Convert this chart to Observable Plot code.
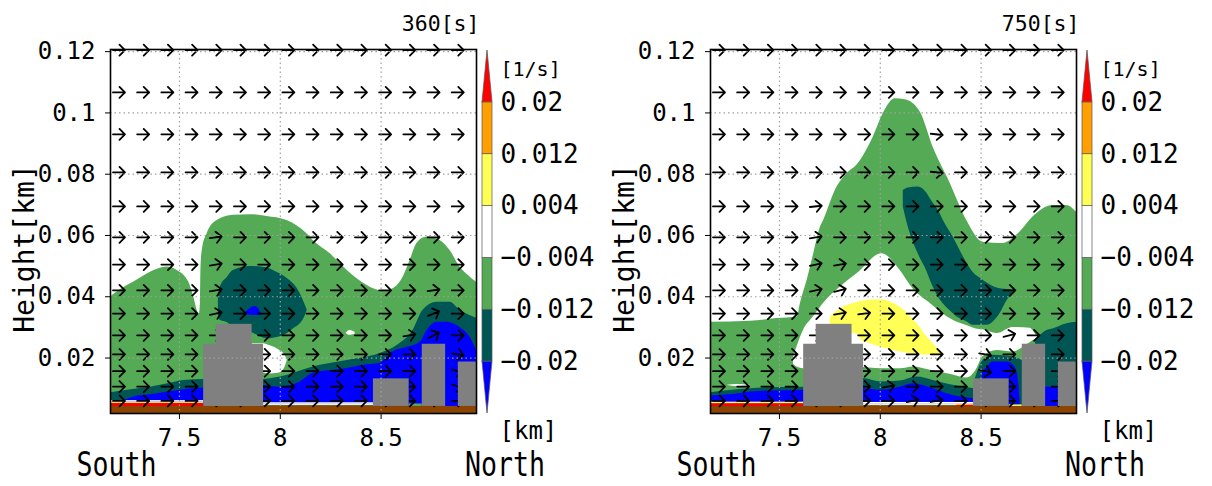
<!DOCTYPE html>
<html><head><meta charset="utf-8">
<script src="https://cdn.jsdelivr.net/npm/d3@7"></script>
<script src="https://cdn.jsdelivr.net/npm/@observablehq/plot@0.6"></script>
<style>
html,body{margin:0;padding:0;background:#fff;}
#wrap{position:relative;width:1212px;height:486px;overflow:hidden;background:#fff;}
.pane{position:absolute;top:0;}
</style></head>
<body><div id="wrap"></div>
<script>
// ---------- shared settings / legend ----------
const FONT = "'DejaVu Sans Mono', monospace";
const levelColors = ["#0000ff", "#005555", "#55aa55", "#ffffff", "#ffff55", "#ffa000", "#ff0000"];
const levelLabels = ["−0.02", "−0.012", "−0.004", "0.004", "0.012", "0.02"];
const buildingColor = "#808080";
const groundColor = "#8b4500";
const xDomain = [7.158, 8.973];
const yDomain = [0.0019, 0.1207];
const xTicks = [7.5, 8, 8.5];
const xTickLabels = ["7.5", "8", "8.5"];
const yTicks = [0.02, 0.04, 0.06, 0.08, 0.1, 0.12];
const yTickLabels = ["0.02", "0.04", "0.06", "0.08", "0.1", "0.12"];
const panelTitles = ["360[s]", "750[s]"];
const groundTop = 0.0042;

// buildings (same in both panels)
const bldX1 = [7.620, 7.682, 8.462, 8.704, 8.883];
const bldX2 = [7.917, 7.860, 8.639, 8.820, 8.990];
const bldTop = [0.0245, 0.0310, 0.0132, 0.0245, 0.0187];

// wind-vector grid
const arrowCols = [7.20, 7.32, 7.44, 7.56, 7.68, 7.80, 7.92, 8.04, 8.16, 8.28, 8.40, 8.52, 8.64, 8.76, 8.88];
const arrowRows = [0.1205, 0.1067, 0.0930, 0.0806, 0.0695, 0.0594, 0.0505, 0.0421, 0.0345, 0.0274, 0.0212, 0.0157, 0.0107, 0.0060];
// [column, row, direction in degrees clockwise from up]
const L_tilt = [[4,5,82],[4,6,80],[4,7,80],[4,8,78],[13,7,82],[13,8,68],[13,9,62],[12,9,80],[14,10,100],[14,11,105],[14,12,110]];
const R_tilt = [[4,4,84],[4,5,80],[4,6,78],[5,6,80],[4,7,78],[5,7,76],[5,8,80],[6,8,82],[9,2,96],[9,3,96],[12,9,75],[11,10,100],[11,11,102],[7,12,80],[8,13,78],[9,13,80]];

// ---------- left panel (360 s) ----------
const L_greenX = [7.158, 7.200, 7.274, 7.356, 7.439, 7.489, 7.546, 7.571, 7.591, 7.598, 7.604, 7.607, 7.614, 7.637, 7.687, 7.767, 7.851, 7.934, 8.033, 8.132, 8.163, 8.248, 8.332, 8.411, 8.460, 8.520, 8.569, 8.609, 8.644, 8.678, 8.728, 8.792, 8.842, 8.891, 8.931, 8.973];
const L_greenTop = [0.0399, 0.0420, 0.0448, 0.0480, 0.0497, 0.0486, 0.0448, 0.0399, 0.0350, 0.0343, 0.0380, 0.0500, 0.0555, 0.0606, 0.0649, 0.0666, 0.0668, 0.0662, 0.0649, 0.0606, 0.0584, 0.0540, 0.0486, 0.0445, 0.0427, 0.0418, 0.0430, 0.0464, 0.0519, 0.0574, 0.0595, 0.0584, 0.0551, 0.0497, 0.0470, 0.0447];
const L_whiteX = [7.861, 7.916, 7.950, 7.990, 8.020, 8.034];
const L_whiteLo = [0.0243, 0.0152, 0.0148, 0.0150, 0.0165, 0.0190];
const L_whiteHi = [0.0247, 0.0247, 0.0240, 0.0228, 0.0212, 0.0195];
const L_spotX = [8.327, 8.345, 8.371];
const L_spotLo = [0.0279, 0.0274, 0.0278];
const L_spotHi = [0.0281, 0.0290, 0.0284];
const L_tealBlobX = [7.693, 7.703, 7.738, 7.767, 7.851, 7.936, 7.965, 8.035, 8.064, 8.099, 8.114, 8.134];
const L_tealBlobLo = [0.0330, 0.0323, 0.0315, 0.0301, 0.0285, 0.0263, 0.0265, 0.0280, 0.0295, 0.0312, 0.0325, 0.0356];
const L_tealBlobHi = [0.0410, 0.0432, 0.0464, 0.0486, 0.0499, 0.0494, 0.0486, 0.0460, 0.0443, 0.0410, 0.0388, 0.0356];
const L_blueSpotX = [7.827, 7.851, 7.876, 7.901, 7.906];
const L_blueSpotLo = [0.0342, 0.0340, 0.0339, 0.0340, 0.0344];
const L_blueSpotHi = [0.0348, 0.0362, 0.0368, 0.0352, 0.0346];
const L_tealLowLX = [7.158, 7.243, 7.356, 7.455, 7.520, 7.630];
const L_tealLowLTop = [0.0087, 0.0095, 0.0105, 0.0118, 0.0127, 0.0130];
const L_blueLowLX = [7.230, 7.272, 7.356, 7.441, 7.569, 7.630];
const L_blueLowLTop = [0.0062, 0.0073, 0.0080, 0.0089, 0.0100, 0.0102];
const L_tealLowRX = [7.900, 8.000, 8.163, 8.332, 8.495, 8.579, 8.658, 8.708, 8.777, 8.842, 8.891, 8.973];
const L_tealLowRTop = [0.0128, 0.0138, 0.0171, 0.0192, 0.0215, 0.0241, 0.0290, 0.0356, 0.0382, 0.0382, 0.0356, 0.0330];
const L_blueLowRX = [7.900, 8.000, 8.099, 8.163, 8.262, 8.332, 8.431, 8.495, 8.545, 8.629, 8.693, 8.728, 8.777, 8.827, 8.891, 8.941, 8.973];
const L_blueLowRTop = [0.0111, 0.0105, 0.0122, 0.0150, 0.0160, 0.0166, 0.0178, 0.0183, 0.0215, 0.0235, 0.0251, 0.0290, 0.0317, 0.0317, 0.0300, 0.0268, 0.0225];
const L_stripeX1 = [7.158, 7.158, 7.158, 7.917, 7.917, 8.639];
const L_stripeX2 = [7.620, 7.620, 7.620, 8.462, 8.462, 8.704];
const L_stripeLo = [0.0042, 0.0052, 0.0056, 0.0044, 0.0049, 0.0042];
const L_stripeHi = [0.0052, 0.0056, 0.0061, 0.0049, 0.0054, 0.0050];
const L_stripeLevel = [6, 4, 3, 4, 3, 2];

// ---------- right panel (750 s) ----------
const R_greenX = [7.158, 7.356, 7.489, 7.588, 7.604, 7.637, 7.670, 7.703, 7.719, 7.777, 7.835, 7.885, 7.965, 8.015, 8.074, 8.124, 8.198, 8.262, 8.347, 8.429, 8.510, 8.609, 8.693, 8.757, 8.856, 8.924, 8.973];
const R_greenTop = [0.0317, 0.0320, 0.0329, 0.0334, 0.0378, 0.0453, 0.0540, 0.0627, 0.0649, 0.0747, 0.0802, 0.0830, 0.0921, 0.0998, 0.1046, 0.1043, 0.1003, 0.0888, 0.0770, 0.0649, 0.0578, 0.0574, 0.0611, 0.0660, 0.0698, 0.0698, 0.0676];
const R_whiteX = [7.569, 7.589, 7.619, 7.668, 7.718, 7.802, 7.886, 8.008, 8.099, 8.163, 8.248, 8.361, 8.431, 8.475, 8.510, 8.579, 8.658, 8.743, 8.777, 8.792];
const R_whiteLo = [0.0180, 0.0170, 0.0165, 0.0160, 0.0160, 0.0160, 0.0170, 0.0165, 0.0165, 0.0171, 0.0160, 0.0145, 0.0135, 0.0160, 0.0205, 0.0225, 0.0220, 0.0250, 0.0262, 0.0262];
const R_whiteHi = [0.0200, 0.0240, 0.0290, 0.0334, 0.0378, 0.0432, 0.0476, 0.0540, 0.0486, 0.0425, 0.0378, 0.0323, 0.0305, 0.0295, 0.0292, 0.0280, 0.0300, 0.0297, 0.0272, 0.0263];
const R_wispX = [7.243, 7.290, 7.356];
const R_wispLo = [0.0110, 0.0106, 0.0110];
const R_wispHi = [0.0111, 0.0114, 0.0111];
const R_yellowX = [7.752, 7.817, 7.876, 7.917, 7.934, 8.000, 8.099, 8.182, 8.231, 8.262, 8.313, 8.327];
const R_yellowLo = [0.0300, 0.0280, 0.0280, 0.0253, 0.0250, 0.0236, 0.0220, 0.0212, 0.0209, 0.0209, 0.0211, 0.0212];
const R_yellowHi = [0.0334, 0.0366, 0.0380, 0.0386, 0.0388, 0.0390, 0.0366, 0.0312, 0.0270, 0.0247, 0.0216, 0.0212];
const R_tealDiagX = [8.114, 8.139, 8.188, 8.233, 8.248, 8.297, 8.312, 8.361, 8.381, 8.431, 8.460, 8.510, 8.530, 8.594, 8.629, 8.678];
const R_tealDiagLo = [0.0693, 0.0627, 0.0540, 0.0480, 0.0454, 0.0390, 0.0377, 0.0345, 0.0334, 0.0318, 0.0307, 0.0307, 0.0307, 0.0345, 0.0388, 0.0421];
const R_tealDiagHi = [0.0747, 0.0755, 0.0758, 0.0736, 0.0720, 0.0671, 0.0650, 0.0595, 0.0570, 0.0508, 0.0480, 0.0454, 0.0445, 0.0426, 0.0424, 0.0421];
const R_tealNEX = [8.770, 8.790, 8.827, 8.856, 8.926, 8.973];
const R_tealNELo = [0.0255, 0.0100, 0.0100, 0.0100, 0.0100, 0.0100];
const R_tealNEHi = [0.0260, 0.0272, 0.0290, 0.0295, 0.0312, 0.0317];
const R_blueCDX = [8.815, 8.890];
const R_blueCDTop = [0.0105, 0.0105];
const R_tealLowLX = [7.158, 7.356, 7.630];
const R_tealLowLTop = [0.0087, 0.0100, 0.0105];
const R_blueLowLX = [7.158, 7.307, 7.356, 7.630];
const R_blueLowLTop = [0.0076, 0.0084, 0.0089, 0.0095];
const R_tealLowRX = [7.900, 7.916, 8.000, 8.099, 8.182, 8.262, 8.361, 8.470];
const R_tealLowRTop = [0.0133, 0.0133, 0.0122, 0.0125, 0.0138, 0.0127, 0.0111, 0.0100];
const R_blueLowRX = [7.900, 7.916, 8.000, 8.099, 8.163, 8.262, 8.361, 8.470];
const R_blueLowRTop = [0.0100, 0.0100, 0.0095, 0.0105, 0.0116, 0.0100, 0.0078, 0.0067];
const R_tealRingX = [8.470, 8.510, 8.559, 8.658, 8.708];
const R_tealRingTop = [0.0130, 0.0192, 0.0209, 0.0204, 0.0190];
const R_blueBlobX = [8.505, 8.530, 8.559, 8.629, 8.668, 8.685, 8.693];
const R_blueBlobTop = [0.0150, 0.0171, 0.0187, 0.0187, 0.0171, 0.0127, 0.0062];
const R_stripeX1 = [7.158, 7.158, 7.917, 7.917, 8.380, 8.639];
const R_stripeX2 = [7.620, 7.620, 8.462, 8.462, 8.462, 8.704];
const R_stripeLo = [0.0042, 0.0051, 0.0044, 0.0049, 0.0042, 0.0042];
const R_stripeHi = [0.0051, 0.0056, 0.0049, 0.0055, 0.0046, 0.0047];
const R_stripeLevel = [6, 4, 4, 3, 6, 4];

// ---------- helpers ----------
function band(xs, lo, hi) {
  return xs.map((x, i) => ({x, lo: typeof lo === "number" ? lo : lo[i], hi: hi[i]}));
}
function stripeRows(x1, x2, lo, hi, lev) {
  return x1.map((v, i) => ({x1: v, x2: x2[i], lo: lo[i], hi: hi[i], c: levelColors[lev[i]]}));
}
const buildings = bldX1.map((x1, i) => ({x1, x2: bldX2[i], lo: groundTop, hi: bldTop[i]}));
const xFmt = new Map(xTicks.map((t, i) => [t, xTickLabels[i]]));
const yFmt = new Map(yTicks.map((t, i) => [t, yTickLabels[i]]));

function makePanel(layers, stripes, tilts, title) {
  const marks = [];
  for (const [lev, data] of layers) {
    marks.push(Plot.area(data, {x1: "x", y1: "lo", y2: "hi", fill: levelColors[lev], curve: "monotone-x", clip: true}));
  }
  for (const s of stripes) {
    marks.push(Plot.rect([s], {x1: "x1", x2: "x2", y1: "lo", y2: "hi", fill: s.c, clip: true}));
  }
  marks.push(Plot.rect([{x1: xDomain[0], x2: xDomain[1], lo: yDomain[0], hi: groundTop}],
    {x1: "x1", x2: "x2", y1: "lo", y2: "hi", fill: groundColor}));
  const arrows = [];
  arrowRows.forEach(y => arrowCols.forEach(x => arrows.push({x, y, a: 90})));
  tilts.forEach(([c, r, a]) => { arrows[r * arrowCols.length + c].a = a; });
  marks.push(Plot.vector(arrows, {x: "x", y: "y", rotate: "a", length: 12, anchor: "middle", r: 8,
    stroke: "black", strokeWidth: 1.8}));
  marks.push(Plot.rect(buildings, {x1: "x1", x2: "x2", y1: "lo", y2: "hi", fill: buildingColor, clip: true}));
  marks.push(Plot.ruleX(xTicks, {stroke: "#a0a0a0", strokeWidth: 1.2, strokeDasharray: "1.5,3"}));
  marks.push(Plot.ruleY(yTicks, {stroke: "#a0a0a0", strokeWidth: 1.2, strokeDasharray: "1.5,3"}));
  marks.push(Plot.frame({stroke: "black", strokeWidth: 1.6}));
  marks.push(Plot.text([title], {frameAnchor: "top-right", dx: 3, dy: -25, textAnchor: "end", lineAnchor: "middle", fontSize: 21.5, fontFamily: FONT, text: d => d}));
  marks.push(Plot.text(["Height[km]"], {frameAnchor: "left", dx: -85, dy: 17, rotate: -90, textAnchor: "middle", lineAnchor: "middle", fontSize: 28, fontFamily: FONT, text: d => d}));
  marks.push(Plot.text(["South"], {frameAnchor: "bottom-left", dx: 6, dy: 52, textAnchor: "middle", lineAnchor: "middle", fontSize: 33, fontFamily: FONT, text: d => d}));
  marks.push(Plot.text(["North"], {frameAnchor: "bottom-right", dx: 28.5, dy: 52, textAnchor: "middle", lineAnchor: "middle", fontSize: 33, fontFamily: FONT, text: d => d}));

  const svg = Plot.plot({
    width: 600, height: 486,
    marginLeft: 110, marginRight: 124, marginTop: 49, marginBottom: 73,
    style: {fontFamily: FONT, fontSize: "24px", background: "transparent", overflow: "visible", color: "black"},
    x: {domain: xDomain, ticks: xTicks, tickFormat: d => xFmt.get(d), tickSize: 6, tickPadding: 9, label: null},
    y: {domain: yDomain, ticks: yTicks, tickFormat: d => yFmt.get(d), tickSize: 5, tickPadding: 10, label: null},
    marks
  });
  d3.select(svg).selectAll("text")
    .filter(function () { return this.textContent === "South" || this.textContent === "North"; })
    .attr("textLength", 80).attr("lengthAdjust", "spacingAndGlyphs");
  return svg;
}

function makeColorbar() {
  const n = levelColors.length;
  const mids = levelColors.map((c, i) => ({i, c})).filter(d => d.i > 0 && d.i < n - 1);
  const topTri = [{x: 0, lo: n - 1, hi: n - 1}, {x: 0.5, lo: n - 1, hi: n}, {x: 1, lo: n - 1, hi: n - 1}];
  const botTri = [{x: 0, lo: 1, hi: 1}, {x: 0.5, lo: 0, hi: 1}, {x: 1, lo: 1, hi: 1}];
  return Plot.plot({
    width: 136, height: 486, margin: 0,
    style: {fontFamily: FONT, background: "transparent", overflow: "visible", color: "black"},
    x: {domain: [0, 1], range: [6, 16], axis: null},
    y: {domain: [0, n], range: [413, 50], axis: null},
    marks: [
      ...mids.map(d => Plot.rect([d], {x1: () => 0, x2: () => 1, y1: "i", y2: e => e.i + 1, fill: d.c, stroke: "#555", strokeWidth: 0.7})),
      Plot.area(topTri, {x1: "x", y1: "lo", y2: "hi", fill: levelColors[n - 1], stroke: "#555", strokeWidth: 0.7}),
      Plot.area(botTri, {x1: "x", y1: "lo", y2: "hi", fill: levelColors[0], stroke: "#555", strokeWidth: 0.7}),
      Plot.text(levelLabels, {x: () => 1, y: (d, i) => i + 1, dx: 8, textAnchor: "start", lineAnchor: "middle", fontSize: 26, fontFamily: FONT, text: d => d}),
      Plot.text(["[1/s]"], {frameAnchor: "top-left", dx: 24, dy: 69, textAnchor: "start", lineAnchor: "middle", fontSize: 20, fontFamily: FONT, text: d => d}),
      Plot.text(["[km]"], {frameAnchor: "top-left", dx: 23, dy: 431, textAnchor: "start", lineAnchor: "middle", fontSize: 24, fontFamily: FONT, text: d => d})
    ]
  });
}

// ---------- assemble ----------
const leftLayers = [
  [2, band(L_greenX, yDomain[0], L_greenTop)],
  [3, band(L_whiteX, L_whiteLo, L_whiteHi)],
  [3, band(L_spotX, L_spotLo, L_spotHi)],
  [1, band(L_tealBlobX, L_tealBlobLo, L_tealBlobHi)],
  [0, band(L_blueSpotX, L_blueSpotLo, L_blueSpotHi)],
  [1, band(L_tealLowLX, groundTop, L_tealLowLTop)],
  [0, band(L_blueLowLX, groundTop, L_blueLowLTop)],
  [1, band(L_tealLowRX, groundTop, L_tealLowRTop)],
  [0, band(L_blueLowRX, groundTop, L_blueLowRTop)]
];
const rightLayers = [
  [2, band(R_greenX, yDomain[0], R_greenTop)],
  [3, band(R_whiteX, R_whiteLo, R_whiteHi)],
  [3, band(R_wispX, R_wispLo, R_wispHi)],
  [4, band(R_yellowX, R_yellowLo, R_yellowHi)],
  [1, band(R_tealDiagX, R_tealDiagLo, R_tealDiagHi)],
  [1, band(R_tealNEX, R_tealNELo, R_tealNEHi)],
  [0, band(R_blueCDX, groundTop, R_blueCDTop)],
  [1, band(R_tealLowLX, groundTop, R_tealLowLTop)],
  [0, band(R_blueLowLX, groundTop, R_blueLowLTop)],
  [1, band(R_tealLowRX, groundTop, R_tealLowRTop)],
  [0, band(R_blueLowRX, groundTop, R_blueLowRTop)],
  [1, band(R_tealRingX, groundTop, R_tealRingTop)],
  [0, band(R_blueBlobX, groundTop, R_blueBlobTop)]
];

const wrap = document.getElementById("wrap");
function place(node, left) {
  const div = document.createElement("div");
  div.className = "pane";
  div.style.left = left + "px";
  div.appendChild(node);
  wrap.appendChild(div);
}
place(makePanel(leftLayers, stripeRows(L_stripeX1, L_stripeX2, L_stripeLo, L_stripeHi, L_stripeLevel), L_tilt, panelTitles[0]), 0);
place(makePanel(rightLayers, stripeRows(R_stripeX1, R_stripeX2, R_stripeLo, R_stripeHi, R_stripeLevel), R_tilt, panelTitles[1]), 600);
place(makeColorbar(), 476);
place(makeColorbar(), 1076);
</script>
</body></html>
